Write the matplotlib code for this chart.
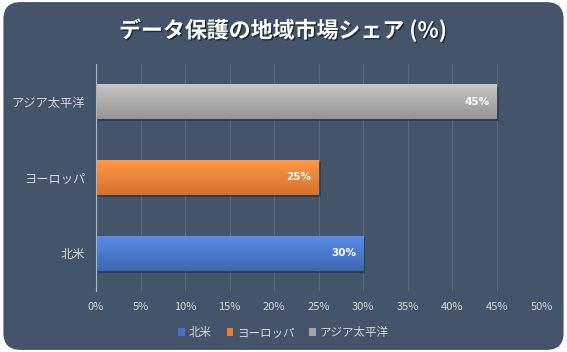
import matplotlib
matplotlib.use("Agg")
import matplotlib.pyplot as plt
import numpy as np
from matplotlib.patches import FancyBboxPatch, Patch
from matplotlib.ticker import MultipleLocator, FuncFormatter
import matplotlib.patheffects as pe
from matplotlib.colors import to_rgb

plt.rcParams['font.family'] = ['Noto Sans CJK JP', 'DejaVu Sans']

title = "データ保護の地域市場シェア (%)"
categories = ["北米", "ヨーロッパ", "アジア太平洋"]
values = [30, 25, 45]
colors = ["#4472C4", "#ED7D31", "#A5A5A5"]

BG = "#44546A"
TXT = "#D9D9D9"

fig = plt.figure(figsize=(5.67, 3.52), dpi=100)
fig.patch.set_facecolor("white")
bg = FancyBboxPatch((0.006, 0.006), 0.988, 0.988, boxstyle="round,pad=0,rounding_size=0.03",
                    transform=fig.transFigure, facecolor=BG, edgecolor="none",
                    mutation_aspect=567/352, zorder=-10)
fig.patches.append(bg)

ax = fig.add_axes([96/567, 61/352, (541.5-96)/567, 227/352])
ax.set_facecolor("none")
ax.set_zorder(2)

y = np.arange(len(categories))
bars = ax.barh(y, values, height=0.46, color=colors, zorder=3)

# gradient overlay and shadow
for b, c in zip(bars, colors):
    x0, y0, w, h = b.get_x(), b.get_y(), b.get_width(), b.get_height()
    r, g, bl = to_rgb(c)
    n = 64
    t = np.linspace(0, 1, n)[:, None]
    light = np.array([min(1, r*1.12+0.05), min(1, g*1.12+0.05), min(1, bl*1.12+0.05)])
    dark = np.array([r*0.9, g*0.9, bl*0.9])
    grad = (light[None, :]*(t) + dark[None, :]*(1-t))
    img = np.repeat(grad[:, None, :], 2, axis=1)
    im = ax.imshow(img, extent=(x0, x0+w, y0, y0+h), origin="lower", aspect="auto", zorder=4)
    im.set_clip_path(b)
    b.set_path_effects([pe.SimplePatchShadow(offset=(1.5, -1.5), shadow_rgbFace="#1f2a38", alpha=0.5), pe.Normal()])
    ax.text(x0 + w - 0.8, y0 + h/2, f"{w:.0f}%", ha="right", va="center", color="white",
            fontsize=7.5, fontweight="bold", zorder=6, family=['DejaVu Sans'])

ax.set_xlim(0, 50)
ax.set_ylim(-0.5, 2.5)
ax.xaxis.set_major_locator(MultipleLocator(5))
ax.xaxis.set_major_formatter(FuncFormatter(lambda v, p: f"{v:.0f}%"))
ax.set_yticks(y)
ax.set_yticklabels(categories)
ax.tick_params(axis="both", length=0, colors=TXT)
ax.tick_params(axis="x", pad=8, labelsize=8)
ax.tick_params(axis="y", pad=8, labelsize=8.8)
ax.grid(axis="x", color="#5B6A80", linewidth=0.8, zorder=1)
for s in ["top", "right", "bottom"]:
    ax.spines[s].set_visible(False)
ax.spines["left"].set_color("#AEB6C2")
ax.spines["left"].set_linewidth(0.8)
ax.spines["left"].set_zorder(5)

fig.text(0.5, 0.913, title, ha="center", va="center", color="white", fontsize=15.8,
         fontweight="bold", path_effects=[pe.withSimplePatchShadow(offset=(1, -1), shadow_rgbFace="black", alpha=0.5)])

handles = [Patch(facecolor=c, edgecolor="none") for c in colors]
leg = fig.legend(handles, categories, loc="center", bbox_to_anchor=(0.5, 0.055), ncol=3,
                 frameon=False, fontsize=8.3, labelcolor=TXT, handlelength=0.6, handleheight=0.6,
                 handletextpad=0.3, columnspacing=1.3)

fig.savefig("out.png", dpi=100, facecolor=fig.get_facecolor())
